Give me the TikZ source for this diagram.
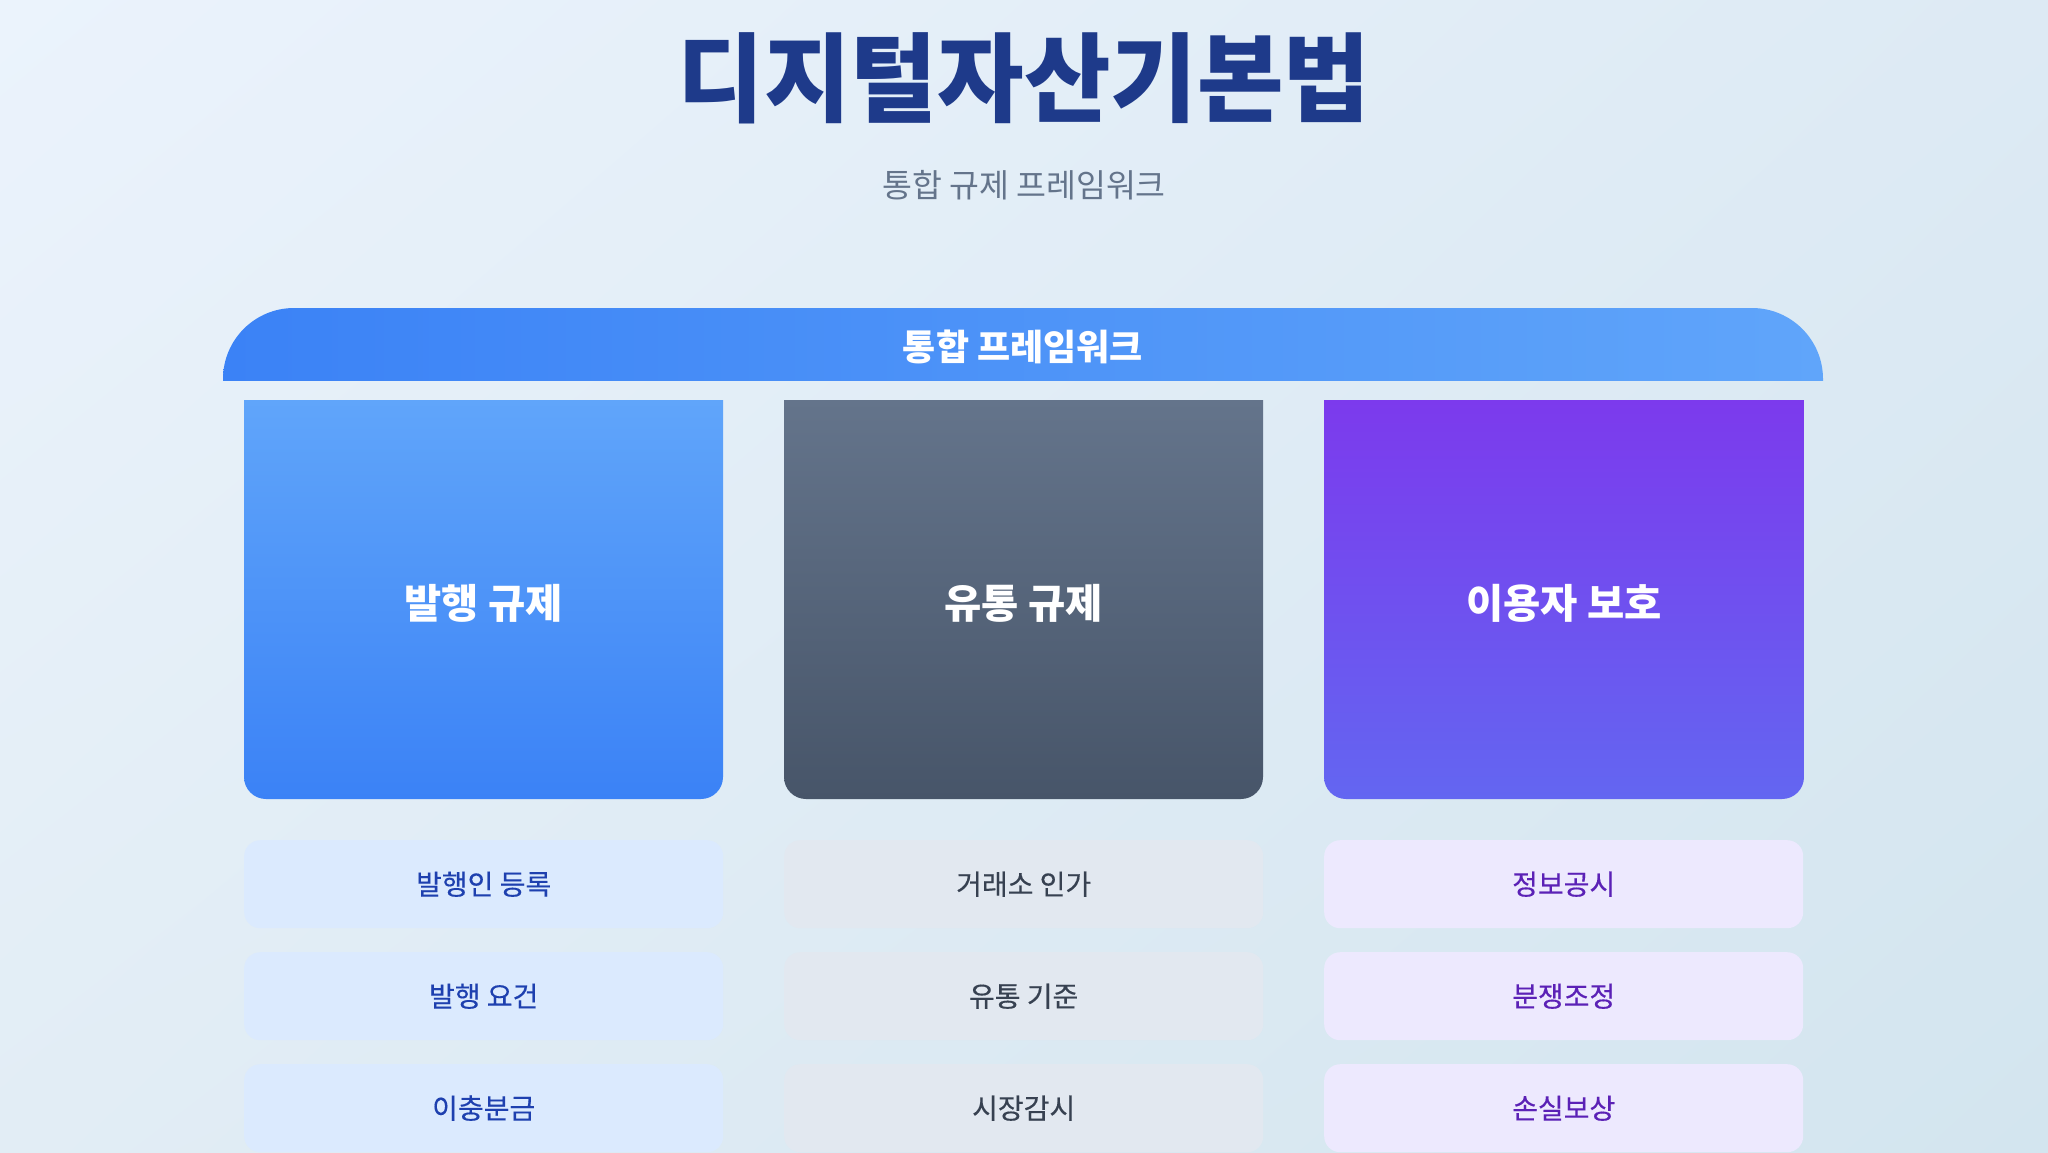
\documentclass[tikz,border=0pt]{standalone}
\usepackage{fontspec}
\usepackage{graphicx}
\newfontfamily\kr{Noto Sans CJK KR}
\newfontfamily\krm[FakeBold=0.35]{Noto Sans CJK KR}
\usetikzlibrary{calc,shadings}
\definecolor{bgA}{HTML}{EBF3FC}
\definecolor{bgB}{HTML}{DDEAF4}
\definecolor{bgC}{HTML}{E2EDF5}
\definecolor{bgD}{HTML}{D3E5EF}
\definecolor{titlec}{HTML}{1E3A8A}
\definecolor{subc}{HTML}{64748B}
\definecolor{hdrL}{HTML}{3B82F6}
\definecolor{hdrR}{HTML}{60A5FA}
\definecolor{c1t}{HTML}{60A5FA}
\definecolor{c1b}{HTML}{3B82F6}
\definecolor{c2t}{HTML}{64748B}
\definecolor{c2b}{HTML}{475569}
\definecolor{c3t}{HTML}{7C3AED}
\definecolor{c3b}{HTML}{6366F1}
\definecolor{i1f}{HTML}{DBEAFE}
\definecolor{i1t}{HTML}{1E40AF}
\definecolor{i2f}{HTML}{E2E8F0}
\definecolor{i2t}{HTML}{374151}
\definecolor{i3f}{HTML}{EDE9FE}
\definecolor{i3t}{HTML}{5B21B6}
\tikzset{
  cardtext/.style={text=white, font=\kr\bfseries\fontsize{40.5}{48}\selectfont, inner sep=0pt},
  itembox/.style={rounded corners=16pt, minimum width=479pt, minimum height=88pt, inner sep=0pt, anchor=north west, font=\krm\fontsize{28}{34}\selectfont},
}
\begin{document}
\begin{tikzpicture}[x=1pt,y=-1pt]
\useasboundingbox (0,0) rectangle (2048,1152);
\shade[upper left=bgA, upper right=bgB, lower left=bgC, lower right=bgD] (0,0) rectangle (2048,1152);

\node[text=titlec, font=\kr\bfseries\fontsize{97}{110}\selectfont, inner sep=0pt] (title) at (1024,78) {\scalebox{0.97}[1]{디지털자산기본법}};
\node[text=subc, font=\kr\fontsize{32.5}{38}\selectfont, inner sep=0pt] (subtitle) at (1024,185) {통합 규제 프레임워크};

% header bar
\begin{scope}
\clip[rounded corners=71pt] (223,308) rectangle (1823,452);
\shade[left color=hdrL, right color=hdrR] (223,308) rectangle (1823,380);
\end{scope}
\node[text=white, font=\kr\bfseries\fontsize{36}{42}\selectfont, inner sep=0pt] (header) at (1023,347) {통합 프레임워크};

% cards
\begin{scope}
\clip[rounded corners=22pt] (244,360) rectangle (723,799);
\shade[top color=c1t, bottom color=c1b] (244,400) rectangle (723,799);
\end{scope}
\begin{scope}
\clip[rounded corners=22pt] (784,360) rectangle (1263,799);
\shade[top color=c2t, bottom color=c2b] (784,400) rectangle (1263,799);
\end{scope}
\begin{scope}
\clip[rounded corners=22pt] (1324,360) rectangle (1804,799);
\shade[top color=c3t, bottom color=c3b] (1324,400) rectangle (1804,799);
\end{scope}
\node[cardtext] (card1) at (483.5,603) {발행 규제};
\node[cardtext] (card2) at (1023.5,603) {유통 규제};
\node[cardtext] (card3) at (1564,603) {이용자 보호};

% items
\node[itembox, fill=i1f, text=i1t] (a1) at (244,840) {발행인 등록};
\node[itembox, fill=i1f, text=i1t] (a2) at (244,952) {발행 요건};
\node[itembox, fill=i1f, text=i1t] (a3) at (244,1064) {이충분금};
\node[itembox, fill=i2f, text=i2t] (b1) at (784,840) {거래소 인가};
\node[itembox, fill=i2f, text=i2t] (b2) at (784,952) {유통 기준};
\node[itembox, fill=i2f, text=i2t] (b3) at (784,1064) {시장감시};
\node[itembox, fill=i3f, text=i3t] (c1) at (1324,840) {정보공시};
\node[itembox, fill=i3f, text=i3t] (c2) at (1324,952) {분쟁조정};
\node[itembox, fill=i3f, text=i3t] (c3) at (1324,1064) {손실보상};
\end{tikzpicture}
\end{document}
